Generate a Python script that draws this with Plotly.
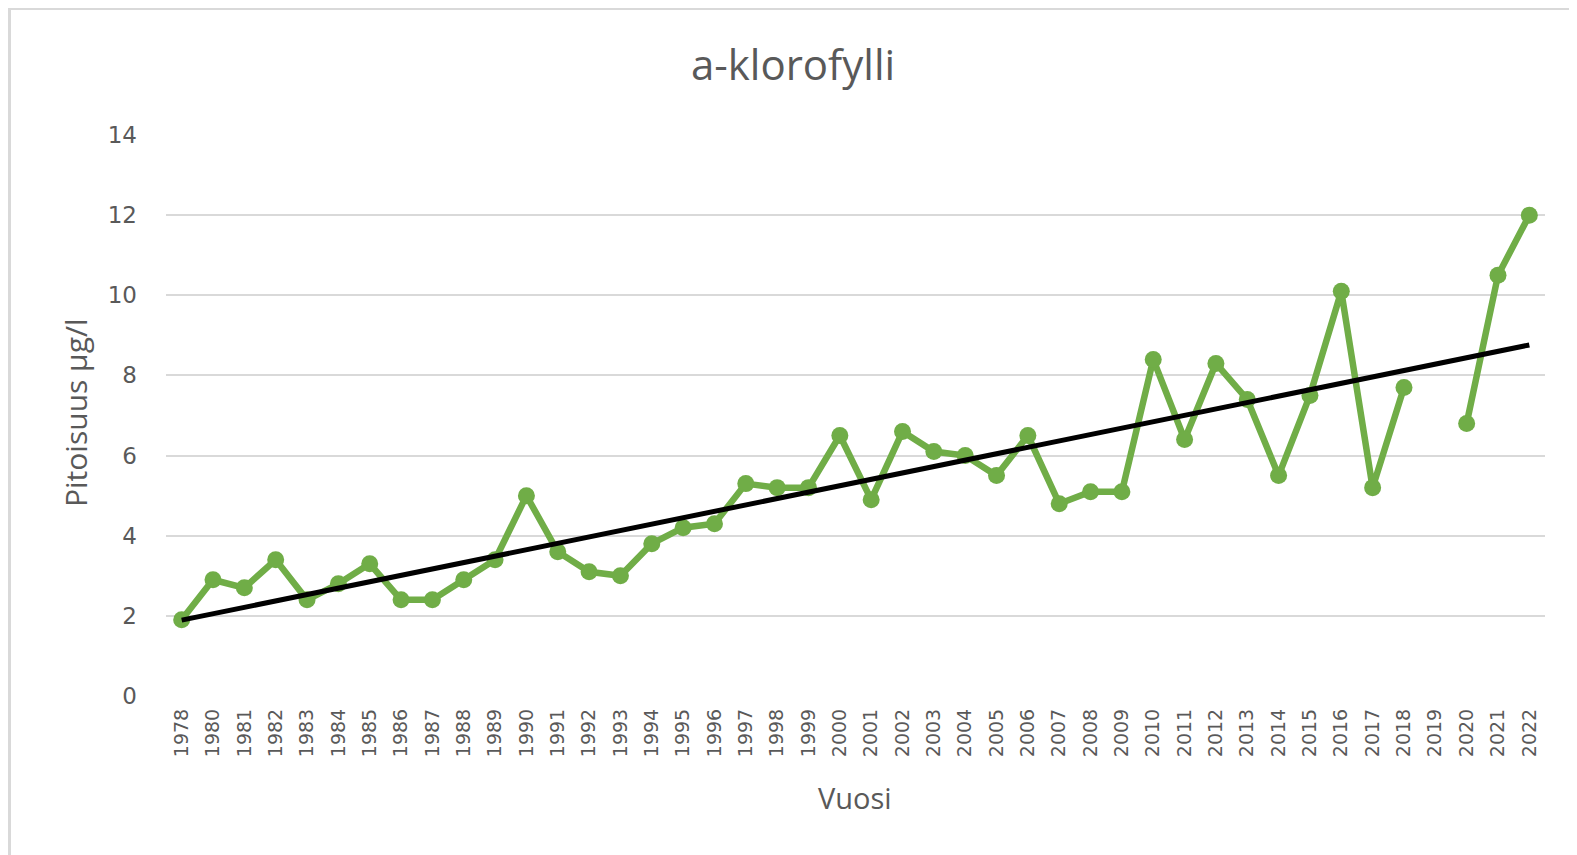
import numpy as np
import plotly.graph_objects as go

years = ["1978"] + [str(y) for y in range(1980, 2023)]
values = [1.9, 2.9, 2.7, 3.4, 2.4, 2.8, 3.3, 2.4, 2.4, 2.9,
          3.4, 5.0, 3.6, 3.1, 3.0, 3.8, 4.2, 4.3, 5.3, 5.2,
          5.2, 6.5, 4.9, 6.6, 6.1, 6.0, 5.5, 6.5, 4.8, 5.1,
          5.1, 8.4, 6.4, 8.3, 7.4, 5.5, 7.5, 10.1, 5.2, 7.7,
          None, 6.8, 10.5, 12.0]
y_ticks = [0, 2, 4, 6, 8, 10, 12, 14]

title_text = "a-klorofylli"
y_title = "Pitoisuus µg/l"
x_title = "Vuosi"

# linear trendline over category index (as the spreadsheet does)
idx = np.array([i for i, v in enumerate(values) if v is not None], dtype=float)
vals = np.array([v for v in values if v is not None], dtype=float)
slope, intercept = np.polyfit(idx, vals, 1)
trend = [float(intercept + slope * i) for i in range(len(years))]

# page offset caused by the default body margin
OFF = 8
PAGE_W, PAGE_H = 1577, 855
W, H = PAGE_W - OFF, PAGE_H - OFF
# plot area in page pixels
PL, PR, PT, PB = 166, 1545, 135, 696
L, T = PL - OFF, PT - OFF
R, B = W - (PR - OFF), H - (PB - OFF)
PW, PH = W - L - R, H - T - B

TXT = "#595959"

fig = go.Figure()
fig.add_trace(go.Scatter(
    x=years, y=values, mode="lines+markers",
    line=dict(color="#70ad47", width=6.5),
    marker=dict(color="#70ad47", size=17),
    connectgaps=False, showlegend=False,
))
fig.add_trace(go.Scatter(
    x=years, y=trend, mode="lines",
    line=dict(color="#000000", width=5),
    showlegend=False,
))

def px_x(p):  # page px -> paper
    return (p - OFF - L) / PW

def px_y(p):
    return 1 - (p - OFF - T) / PH

fig.update_layout(
    width=W, height=H,
    margin=dict(l=L, r=R, t=T, b=B),
    paper_bgcolor="white", plot_bgcolor="white",
    font=dict(family="Open Sans", color=TXT),
    title=dict(text=title_text, x=(793 - OFF) / W, xanchor="center",
               y=1 - (65 - OFF) / H, yanchor="middle",
               xref="container", yref="container",
               font=dict(size=42, color=TXT, family="Open Sans")),
    xaxis=dict(type="category", categoryorder="array", categoryarray=years,
               range=[-0.5, len(years) - 0.5], showgrid=False,
               tickangle=-90, tickfont=dict(size=19, color=TXT, family="DejaVu Sans"),
               ticks="", showline=False, zeroline=False, ticklabelstandoff=8),
    yaxis=dict(range=[0, 14], tickvals=y_ticks, showgrid=True, gridcolor="#d9d9d9",
               gridwidth=2, zeroline=False, showline=False, ticks="",
               tickfont=dict(size=23, color=TXT, family="DejaVu Sans"),
               ticklabelstandoff=28),
    shapes=[dict(type="rect", xref="paper", yref="paper",
                 x0=px_x(9.5), x1=px_x(PAGE_W + 30), y0=px_y(PAGE_H + 30), y1=px_y(8.5),
                 line=dict(color="#d9d9d9", width=3), layer="below")],
    annotations=[
        dict(text=y_title, xref="paper", yref="paper", x=px_x(75), y=px_y(413),
             textangle=-90, showarrow=False, xanchor="center", yanchor="middle",
             font=dict(size=30, color=TXT, family="Open Sans")),
        dict(text=x_title, xref="paper", yref="paper", x=px_x(855), y=px_y(797),
             showarrow=False, xanchor="center", yanchor="middle",
             font=dict(size=29, color=TXT, family="Open Sans")),
    ],
)

fig.write_html("out.html")
